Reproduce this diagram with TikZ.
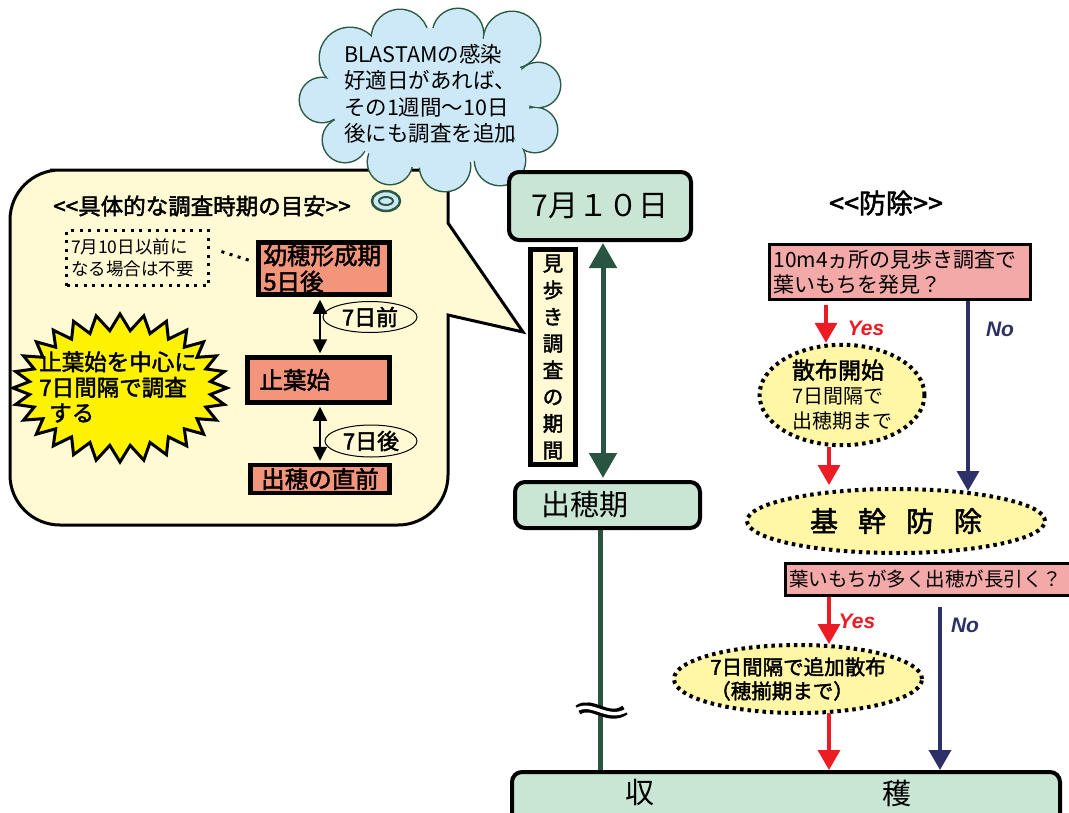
\documentclass[tikz,border=0pt]{standalone}
\usepackage{fontspec}
\setmainfont{Noto Sans CJK JP}[AutoFakeBold=2]
\newfontfamily\ynfont{Liberation Sans}
\usetikzlibrary{arrows.meta,shapes.geometric,positioning}

\definecolor{bubbleY}{HTML}{FFFAD4}
\definecolor{cloudB}{HTML}{CDE9F8}
\definecolor{cloudG}{HTML}{2B5A44}
\definecolor{boxG}{HTML}{C9E5D4}
\definecolor{salmonF}{HTML}{F3957A}
\definecolor{pinkQ}{HTML}{F4A9A9}
\definecolor{burstY}{HTML}{FFF200}
\definecolor{ellY}{HTML}{FFF7A6}
\definecolor{dkGreen}{HTML}{2A5442}
\definecolor{navyA}{HTML}{2E3168}
\definecolor{redA}{HTML}{ED1C24}

\newcommand\fsz[2]{\fontsize{#1}{#2}\selectfont}
\newcommand\ltlt{<\kern0pt<}
\newcommand\gtgt{>\kern0pt>}

\tikzset{>=stealth,
    salmonbox/.style={draw=black, line width=4.5pt, fill=salmonF, inner sep=0pt, font=\bfseries\fsz{23.5}{26}},
    greenbox/.style={draw=black, line width=4pt, fill=boxG, rounded corners=10pt, inner sep=0pt},
    pinkbox/.style={draw=black, line width=3pt, fill=pinkQ, inner sep=0pt},
    dayoval/.style={ellipse, draw=black, line width=1pt, inner sep=0pt, font=\bfseries\fsz{22}{24}},
    sprayoval/.style={ellipse, draw=black, line width=4pt, dash pattern=on 3.5pt off 4pt, fill=ellY, inner sep=0pt},
    dotline/.style={draw=black, line width=3pt, dash pattern=on 3pt off 5.5pt},
    bkdarr/.style={black, line width=1.5pt, {Triangle[width=14pt,length=14pt]}-{Triangle[width=14pt,length=14pt]}},
    gdarr/.style={dkGreen, line width=5pt, {Triangle[width=27pt,length=25pt]}-{Triangle[width=27pt,length=25pt]}},
    redarr/.style={redA, line width=3.5pt, -{Triangle[width=22pt,length=20pt]}},
    navyarr/.style={navyA, line width=3.5pt, -{Triangle[width=22pt,length=20pt]}},
    yes/.style={text=redA, font=\ynfont\bfseries\itshape\fsz{21}{22}},
    no/.style={text=navyA, font=\ynfont\bfseries\itshape\fsz{21}{22}},
}

\begin{document}
\begin{tikzpicture}[x=1pt,y=-1pt]
    \useasboundingbox (0,0) rectangle (1069,812);

    % speech bubble
    \draw[line width=3pt, fill=bubbleY] (448,315) [rounded corners=50pt] -- (448,525) -- (10,525)
        -- (10,170) -- (100,170) [sharp corners] -- (448,170) -- (448,223) -- (523,332) -- cycle;

    % cloud
    \foreach \cx/\cy/\r in {350/58/30, 400/38/28, 458/34/25, 512/40/28, 538/85/22, 535/130/22,
        500/160/25, 445/166/25, 390/162/22, 345/140/22, 322/100/22}
        \draw[cloudG, line width=3pt, fill=cloudB] (\cx,\cy) circle[radius=\r];
    \fill[cloudB] (430,98) ellipse[x radius=100, y radius=70];
    \foreach \cx/\cy/\r in {350/58/30, 400/38/28, 458/34/25, 512/40/28, 538/85/22, 535/130/22,
        500/160/25, 445/166/25, 390/162/22, 345/140/22, 322/100/22}
        \fill[cloudB] (\cx,\cy) circle[radius=\r];
    \draw[cloudG, line width=2.5pt, fill=cloudB] (386,201) ellipse[x radius=14, y radius=10];
    \draw[cloudG, line width=2pt] (386,201) ellipse[x radius=7, y radius=4];
    \node (cloudtxt) at (430,94) [align=left, inner sep=0pt, font=\fsz{21.5}{26.5}]
        {BLASTAMの感染\\好適日があれば、\\その1週間〜10日\\後にも調査を追加};

    % survey timing
    \node (guide) at (202,206) [font=\bfseries\fsz{22.5}{24}] {\ltlt 具体的な調査時期の目安\gtgt};
    \node (note) at (137.5,258) [dotline, fill=bubbleY, minimum width=142pt, minimum height=55pt,
        align=left, text width=133pt, inner sep=0pt, font=\fsz{17.5}{22}] {7月10日以前に\\なる場合は不要};
    \node (ysh) at (324,268.5) [salmonbox, minimum width=131pt, minimum height=52pt,
        text width=121pt, align=left] {幼穂形成期\\5日後};
    \node (shiyo) at (318.5,380) [salmonbox, minimum width=142pt, minimum height=45pt,
        text width=118pt, align=left] {止葉始};
    \node (chokuzen) at (320,479) [salmonbox, minimum width=139pt, minimum height=28pt] {出穂の直前};
    \draw[dotline, shorten <=12pt, shorten >=3pt] ([yshift=10pt]note.east) -- ([yshift=6pt]ysh.west);
    \coordinate (ax) at (320,0);
    \draw[bkdarr] ([yshift=-3pt]ax |- ysh.south) -- ([yshift=2pt]ax |- shiyo.north);
    \draw[bkdarr] ([yshift=-2pt]ax |- shiyo.south) -- ([yshift=2pt]ax |- chokuzen.north);
    \node (mae) at (370,317) [dayoval, minimum width=94pt, minimum height=31pt] {7日前};
    \node (ato) at (371,441) [dayoval, minimum width=92pt, minimum height=32pt] {7日後};

    % starburst
    \draw[line width=3pt, fill=burstY, line join=miter]
        plot[domain=0:55, samples=56, variable=\i]
        ({120+107*(1-0.15*mod(\i,2))*cos(\i*6.42857)}, {388+74*(1-0.22*mod(\i,2))*sin(\i*6.42857)}) -- cycle;
    \node (burst) at (118,387) [align=left, inner sep=0pt, font=\bfseries\fsz{22.5}{25.5}]
        {止葉始を中心に\\7日間隔で調査\\\hspace*{10pt}する};

    % timeline
    \node (d710) at (600,206) [greenbox, minimum width=182pt, minimum height=68pt, font=\fsz{30}{32}] {7月１０日};
    \node (period) at (553,357) [draw=black, line width=4.5pt, fill=bubbleY, minimum width=45pt,
        minimum height=215pt, align=center, inner sep=0pt, font=\bfseries\fsz{20.5}{26.7}]
        {見\\歩\\き\\調\\査\\の\\期\\間};
    \node (shussui) at (607.5,505) [greenbox, minimum width=185pt, minimum height=46pt, font=\fsz{29}{30}]
        {\hspace*{-45pt}出穂期};
    \node (harvest) at (786,806) [greenbox, minimum width=548pt, minimum height=68pt] {};
    \node (shu) at (640,793) [font=\fsz{29}{30}] {収};
    \node (kaku) at (897,793) [font=\fsz{29}{30}] {穫};
    \coordinate (gx) at (603,0);
    \coordinate (lx) at (600,0);
    \draw[gdarr] ([yshift=-1pt]gx |- d710.south) -- ([yshift=2pt]gx |- shussui.north);
    \draw[dkGreen, line width=5pt] (lx |- shussui.south) -- (lx |- harvest.north);
    \draw[black, line width=10pt] (578,710) .. controls (592,700) and (608,722) .. (625,710);
    \draw[white, line width=3.5pt] (576,710) .. controls (592,700) and (608,722) .. (627,710);

    % control
    \node (bojo) at (886,203) [font=\bfseries\fsz{27}{29}] {\ltlt 防除\gtgt};
    \node (q1) at (900,272) [pinkbox, minimum width=261pt, minimum height=55pt, text width=253pt,
        align=left, font=\fsz{21}{25}] {10m4ヵ所の見歩き調査で\\葉いもちを発見？};
    \node (sanpu) at (842,395) [sprayoval, minimum width=165pt, minimum height=100pt, align=left,
        font=\fsz{20}{25}] {{\bfseries\fontsize{23}{25}\selectfont 散布開始}\\7日間隔で\\出穂期まで};
    \node (kikan) at (896,521) [sprayoval, minimum width=298pt, minimum height=64pt, font=\bfseries\fsz{28}{30}]
        {基\hspace{20pt}幹\hspace{20pt}防\hspace{20pt}除};
    \node (q2) at (930,579) [pinkbox, minimum width=290pt, minimum height=32pt, text width=282pt,
        align=left, font=\fsz{19.5}{22}] {葉いもちが多く出穂が長引く？};
    \node (tsuika) at (798,679) [sprayoval, minimum width=243pt, minimum height=68pt, align=left,
        font=\bfseries\fsz{20.5}{24}] {7日間隔で追加散布\\（穂揃期まで）};

    \coordinate (rx1) at (826,0);
    \coordinate (rx2) at (829,0);
    \coordinate (nx1) at (968,0);
    \coordinate (nx2) at (940,0);
    \draw[redarr, shorten <=4pt] (rx1 |- q1.south) -- (rx1 |- sanpu.north);
    \draw[redarr] (rx2 |- sanpu.south) -- ([yshift=2pt]rx2 |- kikan.north);
    \draw[navyarr] (nx1 |- q1.south) -- ([yshift=-4pt]nx1 |- kikan.north);
    \draw[redarr] (rx2 |- q2.south) -- ([yshift=-1pt]rx2 |- tsuika.north);
    \draw[redarr] ([yshift=2pt]rx2 |- tsuika.south) -- (rx2 |- harvest.north);
    \draw[navyarr, shorten <=10pt] (nx2 |- q2.south) -- (nx2 |- harvest.north);
    \node (yes1) at (866,328) [yes] {Yes};
    \node (no1) at (1000,329) [no] {No};
    \node (yes2) at (857,621) [yes] {Yes};
    \node (no2) at (965,625) [no] {No};
\end{tikzpicture}
\end{document}
